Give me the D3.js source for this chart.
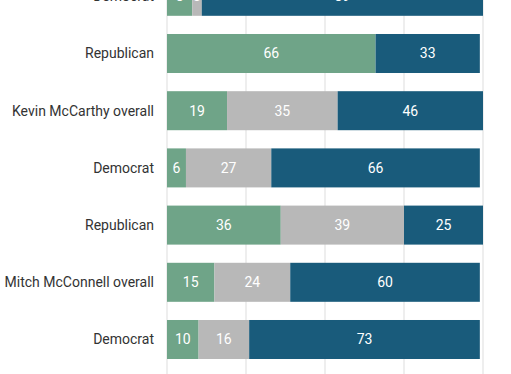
<!DOCTYPE html>
<html>
<head>
<meta charset="utf-8">
<script src="https://cdn.jsdelivr.net/npm/d3@7"></script>
<style>
  body { margin: 0; background: #fff; }
  svg { display: block; font-family: Roboto, sans-serif; }
  .row-label { font-size: 14px; fill: #333; }
  .value-label { font-size: 14px; fill: #fff; }
  .grid line { stroke: #ddd; }
</style>
</head>
<body>
<svg id="chart"></svg>
<script>
const rowLabels = ["Democrat", "Republican", "Kevin McCarthy overall", "Democrat", "Republican", "Mitch McConnell overall", "Democrat"];
const favorable = [8, 66, 19, 6, 36, 15, 10];
const neutral = [3, 0, 35, 27, 39, 24, 16];
const unfavorable = [89, 33, 46, 66, 25, 60, 73];
const ticks = [0, 25, 50, 75, 100];

const seriesKeys = ["favorable", "neutral", "unfavorable"];
const colors = ["#6fa488", "#b8b8b8", "#195b7b"];

const width = 511, height = 374;
const margin = { left: 167, right: 28 };

const rows = rowLabels.map((label, i) => ({
  id: i, label,
  favorable: favorable[i], neutral: neutral[i], unfavorable: unfavorable[i]
}));

const svg = d3.select("#chart").attr("width", width).attr("height", height);

const x = d3.scaleLinear().domain([0, 100]).range([margin.left, width - margin.right]);
const y = d3.scaleBand()
  .domain(rows.map(d => d.id))
  .range([-32.3, 368.1])
  .paddingInner(0.318)
  .paddingOuter(0.159);

// gridlines
svg.append("g").attr("class", "grid")
  .selectAll("line").data(ticks).join("line")
  .attr("x1", d => x(d)).attr("x2", d => x(d))
  .attr("y1", 0).attr("y2", height);

const stack = d3.stack().keys(seriesKeys)(rows);

const layers = svg.append("g").selectAll("g").data(stack).join("g")
  .attr("fill", (d, i) => colors[i]);

layers.selectAll("rect").data(d => d).join("rect")
  .attr("x", d => x(d[0]))
  .attr("width", d => x(d[1]) - x(d[0]))
  .attr("y", d => y(d.data.id))
  .attr("height", y.bandwidth());

layers.selectAll("text").data(d => d.filter(s => s[1] - s[0] > 0)).join("text")
  .attr("class", "value-label")
  .attr("x", d => (x(d[0]) + x(d[1])) / 2)
  .attr("y", d => y(d.data.id) + y.bandwidth() / 2)
  .attr("dy", "0.35em")
  .attr("text-anchor", "middle")
  .text(d => d[1] - d[0]);

svg.append("g").selectAll("text").data(rows).join("text")
  .attr("class", "row-label")
  .attr("x", margin.left - 13)
  .attr("y", d => y(d.id) + y.bandwidth() / 2)
  .attr("dy", "0.35em")
  .attr("text-anchor", "end")
  .text(d => d.label);
</script>
</body>
</html>
